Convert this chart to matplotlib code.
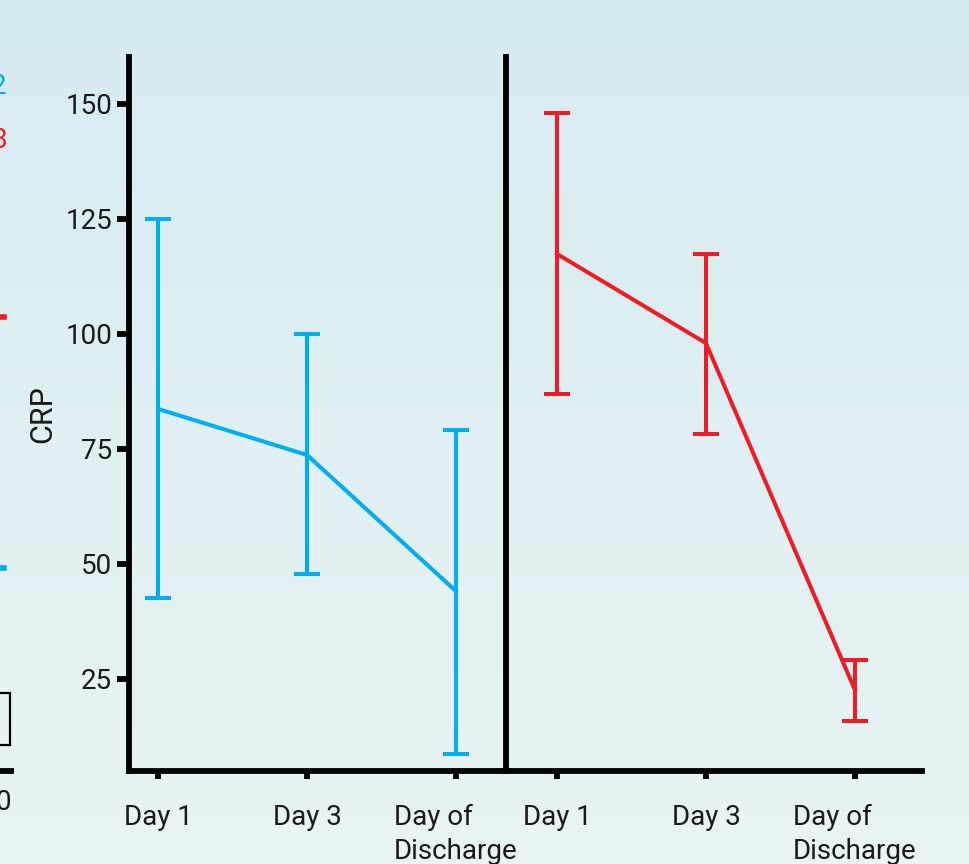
import numpy as np
import matplotlib.pyplot as plt
from matplotlib.patches import Rectangle
from matplotlib.lines import Line2D

# === Data (CRP, mean with error range) ===
days = ['Day 1', 'Day 3', 'Day of\nDischarge']

blue_mean = [83.7, 73.7, 44.1]
blue_low = [42.6, 47.8, 8.7]
blue_high = [125.0, 100.0, 79.1]

red_mean = [117.4, 98.0, 22.6]
red_low = [87.0, 78.3, 15.9]
red_high = [148.0, 117.4, 29.1]

yticks = [25, 50, 75, 100, 125, 150]

BLUE = '#00aeef'
RED = '#ee1c25'
TXT = '#1a1a1a'

plt.rcParams['font.family'] = ['Roboto', 'DejaVu Sans']

fig = plt.figure(figsize=(9.69, 8.64), dpi=100)

# === Background gradient ===
bg = fig.add_axes([0, 0, 1, 1], zorder=-10)
grad = np.linspace(0, 1, 256).reshape(-1, 1)
bg_cmap = plt.matplotlib.colors.LinearSegmentedColormap.from_list('bg', ['#d6ebf1', '#e9f4f4'])
bg.imshow(grad, aspect='auto', cmap=bg_cmap, extent=[0, 1, 0, 1], origin='upper')
bg.axis('off')

# === Panels ===
W, H = 969, 864
y_bottom = 1 - 771 / H
y_top = 1 - 57 / H
ax1 = fig.add_axes([129 / W, y_bottom, (506 - 129) / W, y_top - y_bottom])
ax2 = fig.add_axes([506 / W, y_bottom, (922 - 506) / W, y_top - y_bottom], sharey=ax1)


def draw_panel(ax, mean, low, high, color, xlim):
    x = np.arange(len(mean))
    mean = np.array(mean)
    err = [mean - np.array(low), np.array(high) - mean]
    ax.errorbar(x, mean, yerr=err, color=color, lw=2.9, elinewidth=2.9,
                capsize=9.5, capthick=2.9, clip_on=False)
    ax.set_xlim(*xlim)
    ax.set_xticks(x)
    ax.set_xticklabels(days, fontsize=20, color=TXT, linespacing=1.3,
                       multialignment='left')
    ax.patch.set_alpha(0)
    for s in ['top', 'right']:
        ax.spines[s].set_visible(False)
    for s in ['left', 'bottom']:
        ax.spines[s].set_linewidth(4.2)
    ax.tick_params(axis='x', length=6, width=4.2, pad=18)
    ax.tick_params(axis='y', length=9, width=4.2, pad=3, labelsize=20, labelcolor=TXT)


draw_panel(ax1, blue_mean, blue_low, blue_high, BLUE, (-0.195, 2.336))
draw_panel(ax2, red_mean, red_low, red_high, RED, (-0.342, 2.45))

ax1.set_ylim(5, 160.2)
ax1.set_yticks(yticks)
ax1.set_ylabel('CRP', fontsize=22, color=TXT, labelpad=6)
ax2.tick_params(axis='y', left=False, labelleft=False)

# === Fragments of neighbouring chart at left edge ===
fig.text(-1 / W, 1 - 86 / H, '2', color=BLUE, fontsize=20, ha='center', va='center')
fig.text(-1 / W, 1 - 140 / H, '8', color=RED, fontsize=20, ha='center', va='center')
fig.text(3 / W, 1 - 802 / H, '0', color=TXT, fontsize=20, ha='center', va='center')
fig.add_artist(Line2D([0, 4 / W], [1 - 317 / H] * 2, color=RED, lw=4))
fig.add_artist(Line2D([0, 4 / W], [1 - 568 / H] * 2, color=BLUE, lw=4))
fig.add_artist(Line2D([0, 11 / W], [1 - 771 / H] * 2, color='black', lw=4.2))
fig.add_artist(Rectangle((-20 / W, 1 - 745 / H), 30 / W, 52 / H, fill=False,
                         edgecolor='black', lw=1.6))

fig.savefig('out.png', dpi=100)
